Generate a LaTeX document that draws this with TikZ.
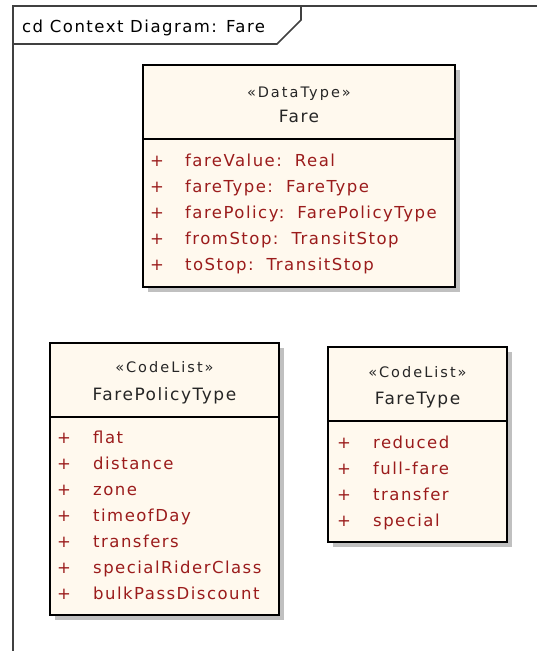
\documentclass[tikz,border=0pt]{standalone}
\usepackage{fontspec}
\newfontfamily\umlfont{DejaVu Sans}[LetterSpace=9]
\newfontfamily\stereofont{DejaVu Sans}[LetterSpace=14]
\definecolor{boxfill}{RGB}{255,249,238}
\definecolor{attrred}{RGB}{155,28,28}
\definecolor{shadowgray}{RGB}{192,192,192}
\definecolor{framegray}{RGB}{64,64,64}
\newcommand{\gap}{\hspace{13pt}}
\tikzset{
  x=1pt, y=-1pt,
  framestyle/.style={draw=framegray, line width=1.6pt},
  boxborder/.style={draw=black, line width=1.8pt, fill=boxfill},
  boxshadow/.style={fill=shadowgray, draw=none},
  divider/.style={draw=black, line width=1.4pt},
  stereo/.style={anchor=base, inner sep=0pt, font=\stereofont\fontsize{14.5}{16}\selectfont, text=black!85},
  cname/.style={anchor=base, inner sep=0pt, font=\umlfont\fontsize{17}{20}\selectfont, text=black!85},
  vis/.style={anchor=base west, inner sep=0pt, font=\umlfont\fontsize{16.5}{18}\selectfont, text=attrred},
  attr/.style={anchor=base west, inner sep=0pt, font=\umlfont\fontsize{16.5}{18}\selectfont, text=attrred},
  framelabel/.style={anchor=base west, inner sep=0pt, font=\umlfont\fontsize{16.5}{18}\selectfont, text=black}
}
\newcommand{\umlclass}[6]{% name, left, top, right, bottom, divider
  \fill[boxshadow] (#2+5,#3+5) rectangle (#4+5,#5+5);
  \draw[boxborder] (#2,#3) rectangle (#4,#5);
  \draw[divider] (#2,#6) -- (#4,#6);
}
\begin{document}
\begin{tikzpicture}
\useasboundingbox (0,0) rectangle (537,651);
\fill[white] (0,0) rectangle (537,651);

% diagram frame with its name tab
\draw[framestyle] (13,660) -- (13,6) -- (545,6);
\draw[framestyle] (13,44) -- (277,44) -- (301,20) -- (301,6);
\node[framelabel] (framename) at (22,32) {cd Context Diagram: Fare};

% Fare
\umlclass{fare}{143}{65}{455}{287}{139}
\node[stereo] (fareStereo) at (299,97) {«DataType»};
\node[cname] (fareName) at (299,122) {Fare};
\foreach \y/\t [count=\i] in {166/{fareValue:\gap Real},192/{fareType:\gap FareType},218/{farePolicy:\gap FarePolicyType},244/{fromStop:\gap TransitStop},270/{toStop:\gap TransitStop}}{
  \node[vis] (fareVis\i) at (150,\y) {+};
  \node[attr] (fareAttr\i) at (185,\y) {\t};
}

% FarePolicyType
\umlclass{fpt}{50}{343}{279}{615}{417}
\node[stereo] (fptStereo) at (164.5,372) {«CodeList»};
\node[cname] (fptName) at (164.5,400) {FarePolicyType};
\foreach \y/\t [count=\i] in {443/flat,469/distance,495/zone,521/timeofDay,547/transfers,573/specialRiderClass,599/bulkPassDiscount}{
  \node[vis] (fptVis\i) at (57,\y) {+};
  \node[attr] (fptAttr\i) at (93,\y) {\t};
}

% FareType
\umlclass{ft}{328}{347}{507}{542}{421}
\node[stereo] (ftStereo) at (417.5,377) {«CodeList»};
\node[cname] (ftName) at (417.5,404) {FareType};
\foreach \y/\t [count=\i] in {448/reduced,474/full-fare,500/transfer,526/special}{
  \node[vis] (ftVis\i) at (337,\y) {+};
  \node[attr] (ftAttr\i) at (373,\y) {\t};
}
\end{tikzpicture}
\end{document}
